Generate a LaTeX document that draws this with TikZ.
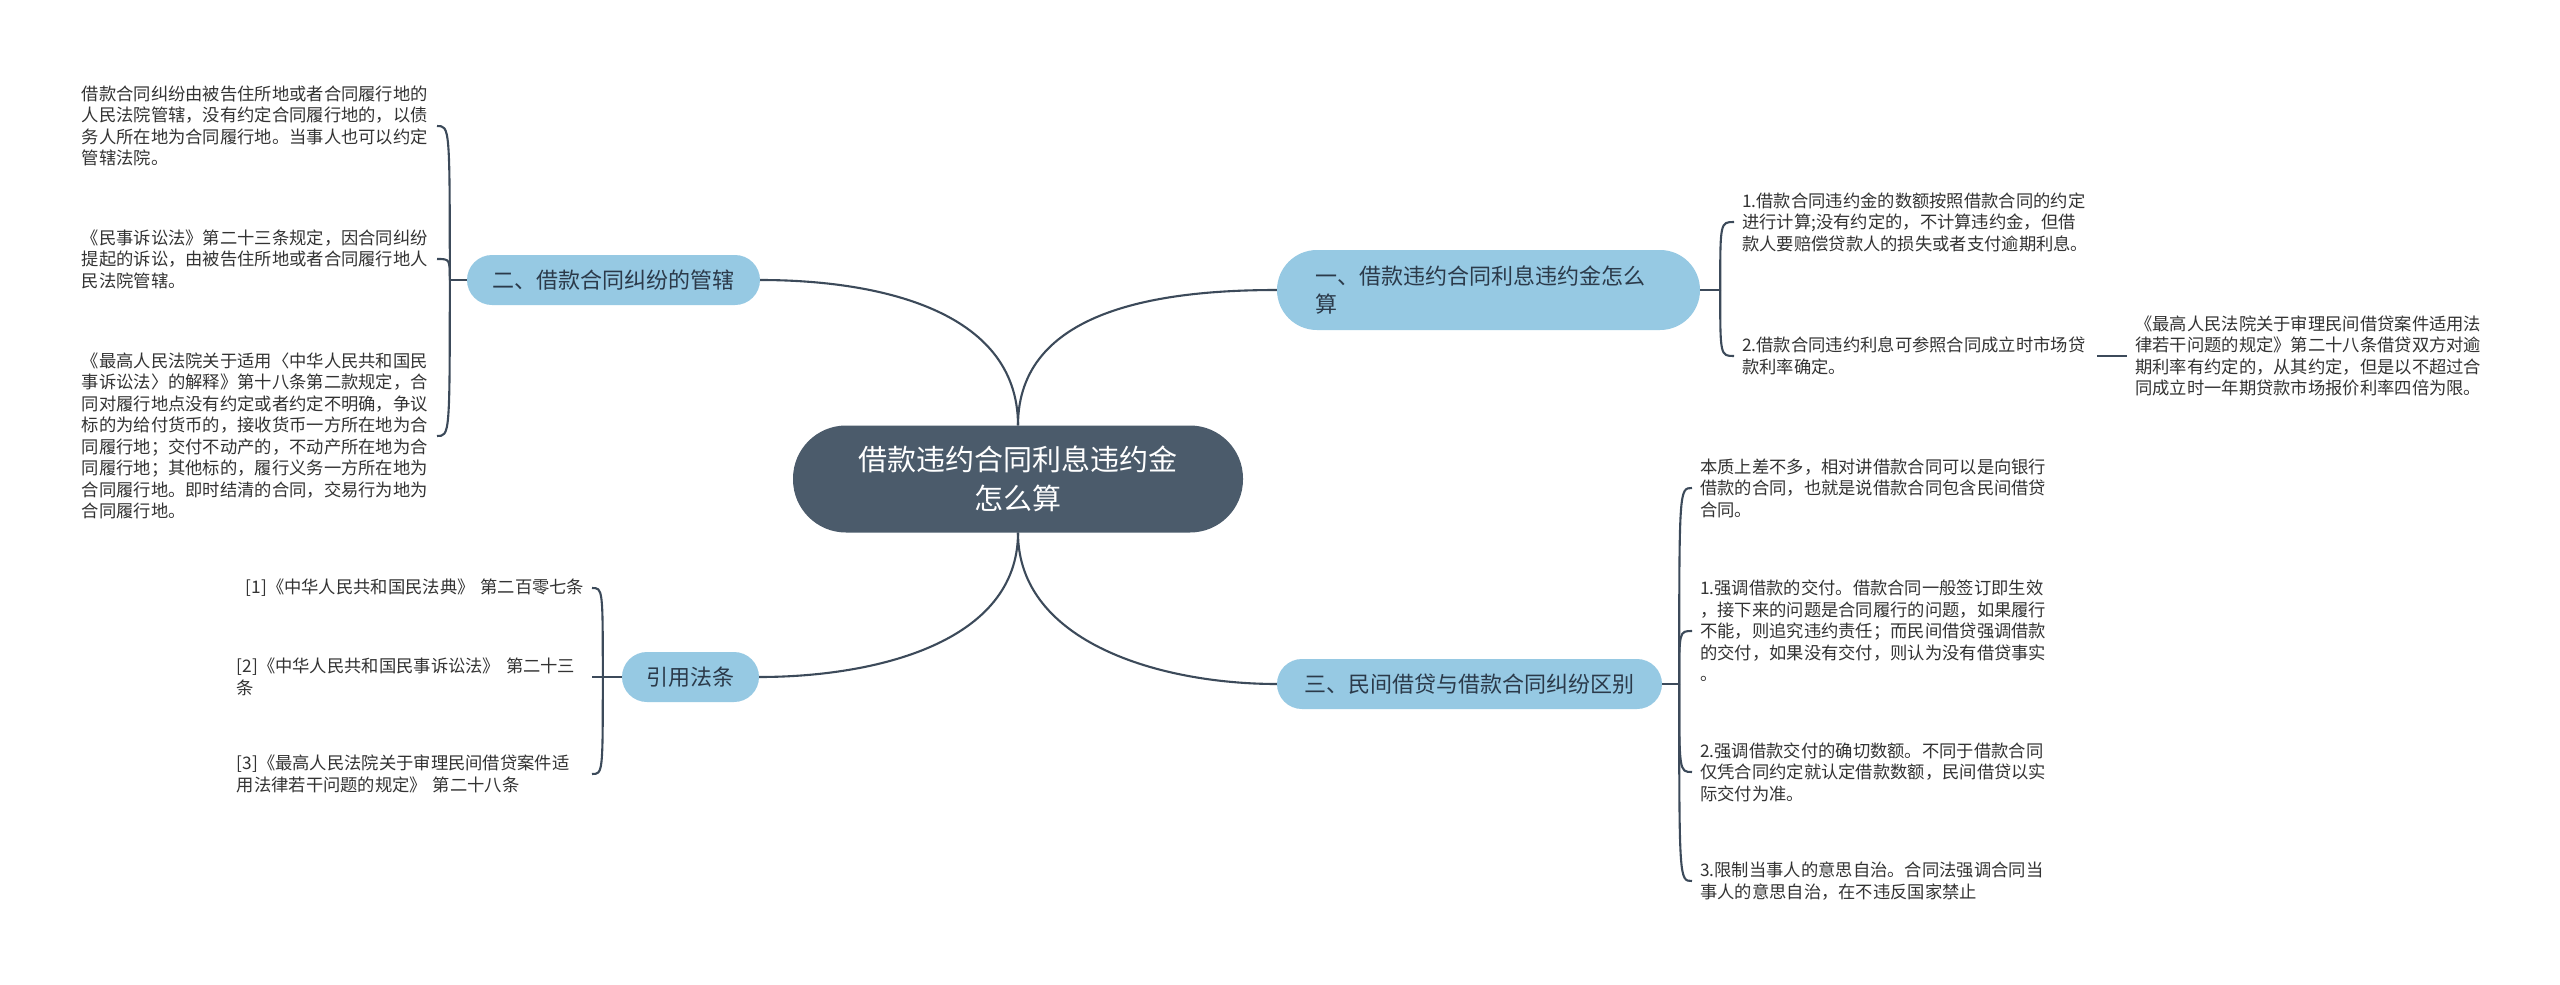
\documentclass[tikz,border=0pt]{standalone}
\usepackage{fontspec}
\newfontfamily\cjk{Noto Sans CJK SC}
\definecolor{rootfill}{HTML}{4B5B6B}
\definecolor{branchfill}{HTML}{96C9E3}
\definecolor{branchtext}{HTML}{2B3A4A}
\definecolor{linecol}{HTML}{3C4A5A}
\definecolor{leaftext}{HTML}{333333}

\begin{document}
\begin{tikzpicture}[x=1pt,y=-1pt,
        link/.style={draw=linecol, line width=2.1pt},
        root/.style={fill=rootfill, text=white, rounded corners=53pt,
            minimum width=450pt, minimum height=107pt, align=center,
            font=\cjk\fontsize{29}{39}\selectfont},
        branch/.style={fill=branchfill, text=branchtext, rounded corners=25pt,
            minimum height=50pt, inner xsep=0pt,
            font=\cjk\fontsize{22}{28}\selectfont},
        leaf/.style={text=leaftext, text width=347pt, align=left,
            inner xsep=8pt, inner ysep=0pt,
            font=\cjk\fontsize{17.3}{21.5}\selectfont}]
        \fill[white] (0,0) rectangle (2560,985);

        % centre and main branches
        \node[root] (root) at (1018,479) {借款违约合同利息违约金\\怎么算};
        \node[branch, minimum width=423pt, minimum height=80pt, rounded corners=40pt,
            text width=347pt, align=left, inner xsep=38pt] (b1) at (1488.5,290)
            {一、借款违约合同利息违约金怎么\\算};
        \node[branch, minimum width=293pt] (b2) at (613.5,280) {二、借款合同纠纷的管辖};
        \node[branch, minimum width=385pt] (b3) at (1469.5,684) {三、民间借贷与借款合同纠纷区别};
        \node[branch, minimum width=137pt] (b4) at (690.5,677) {引用法条};

        \draw[link] (root.north) .. controls +(0,-116) and +(116,0) .. (b2.east);
        \draw[link] (root.north) .. controls +(0,-116) and +(-116,0) .. (b1.west);
        \draw[link] (root.south) .. controls +(0,110) and +(116,0) .. (b4.east);
        \draw[link] (root.south) .. controls +(0,110) and +(-116,0) .. (b3.west);

        % 二
        \node[leaf, anchor=east] (l1) at (437,126) {借款合同纠纷由被告住所地或者合同履行地的\\
            人民法院管辖，没有约定合同履行地的，以债\\
            务人所在地为合同履行地。当事人也可以约定\\
            管辖法院。};
        \node[leaf, anchor=east] (l2) at (437,259) {《民事诉讼法》第二十三条规定，因合同纠纷\\
            提起的诉讼，由被告住所地或者合同履行地人\\
            民法院管辖。};
        \node[leaf, anchor=east] (l3) at (437,436) {《最高人民法院关于适用〈中华人民共和国民\\
            事诉讼法〉的解释》第十八条第二款规定，合\\
            同对履行地点没有约定或者约定不明确，争议\\
            标的为给付货币的，接收货币一方所在地为合\\
            同履行地；交付不动产的，不动产所在地为合\\
            同履行地；其他标的，履行义务一方所在地为\\
            合同履行地。即时结清的合同，交易行为地为\\
            合同履行地。};
        \draw[link] (b2.west) -- ++(-17,0) coordinate (j2);
        \foreach \l in {l1,l2,l3}
            \draw[link] (j2) .. controls (j2 |- \l.east) .. (\l.east);

        % 一
        \node[leaf, anchor=west] (la) at (1734,222) {1.借款合同违约金的数额按照借款合同的约定\\
            进行计算;没有约定的，不计算违约金，但借\\
            款人要赔偿贷款人的损失或者支付逾期利息。};
        \node[leaf, anchor=west] (lb) at (1734,356) {2.借款合同违约利息可参照合同成立时市场贷\\
            款利率确定。};
        \node[leaf, anchor=west] (lc) at (2127,356) {《最高人民法院关于审理民间借贷案件适用法\\
            律若干问题的规定》第二十八条借贷双方对逾\\
            期利率有约定的，从其约定，但是以不超过合\\
            同成立时一年期贷款市场报价利率四倍为限。};
        \draw[link] (b1.east) -- ++(20,0) coordinate (j1);
        \foreach \l in {la,lb}
            \draw[link] (j1) .. controls (j1 |- \l.west) .. (\l.west);
        \draw[link] (lb.east) -- (lc.west);

        % 三
        \node[leaf, anchor=west] (ld) at (1692,488) {本质上差不多，相对讲借款合同可以是向银行\\
            借款的合同，也就是说借款合同包含民间借贷\\
            合同。};
        \node[leaf, anchor=west] (le) at (1692,631) {1.强调借款的交付。借款合同一般签订即生效\\
            ，接下来的问题是合同履行的问题，如果履行\\
            不能，则追究违约责任；而民间借贷强调借款\\
            的交付，如果没有交付，则认为没有借贷事实\\
            。};
        \node[leaf, anchor=west] (lf) at (1692,772) {2.强调借款交付的确切数额。不同于借款合同\\
            仅凭合同约定就认定借款数额，民间借贷以实\\
            际交付为准。};
        \node[leaf, anchor=west] (lg) at (1692,881) {3.限制当事人的意思自治。合同法强调合同当\\
            事人的意思自治，在不违反国家禁止};
        \draw[link] (b3.east) -- ++(17,0) coordinate (j3);
        \foreach \l in {ld,le,lf,lg}
            \draw[link] (j3) .. controls (j3 |- \l.west) .. (\l.west);

        % 引用法条
        \node[leaf, anchor=east] (r1) at (592,588) {\hspace{9pt}[1]《中华人民共和国民法典》~第二百零七条};
        \node[leaf, anchor=east] (r2) at (592,677) {[2]《中华人民共和国民事诉讼法》~第二十三\\条};
        \node[leaf, anchor=east] (r3) at (592,774) {[3]《最高人民法院关于审理民间借贷案件适\\
            用法律若干问题的规定》~第二十八条};
        \draw[link] (b4.west) -- ++(-19,0) coordinate (j4);
        \foreach \l in {r1,r3}
            \draw[link] (j4) .. controls (j4 |- \l.east) .. (\l.east);
        \draw[link] (j4) -- (r2.east);
\end{tikzpicture}
\end{document}
